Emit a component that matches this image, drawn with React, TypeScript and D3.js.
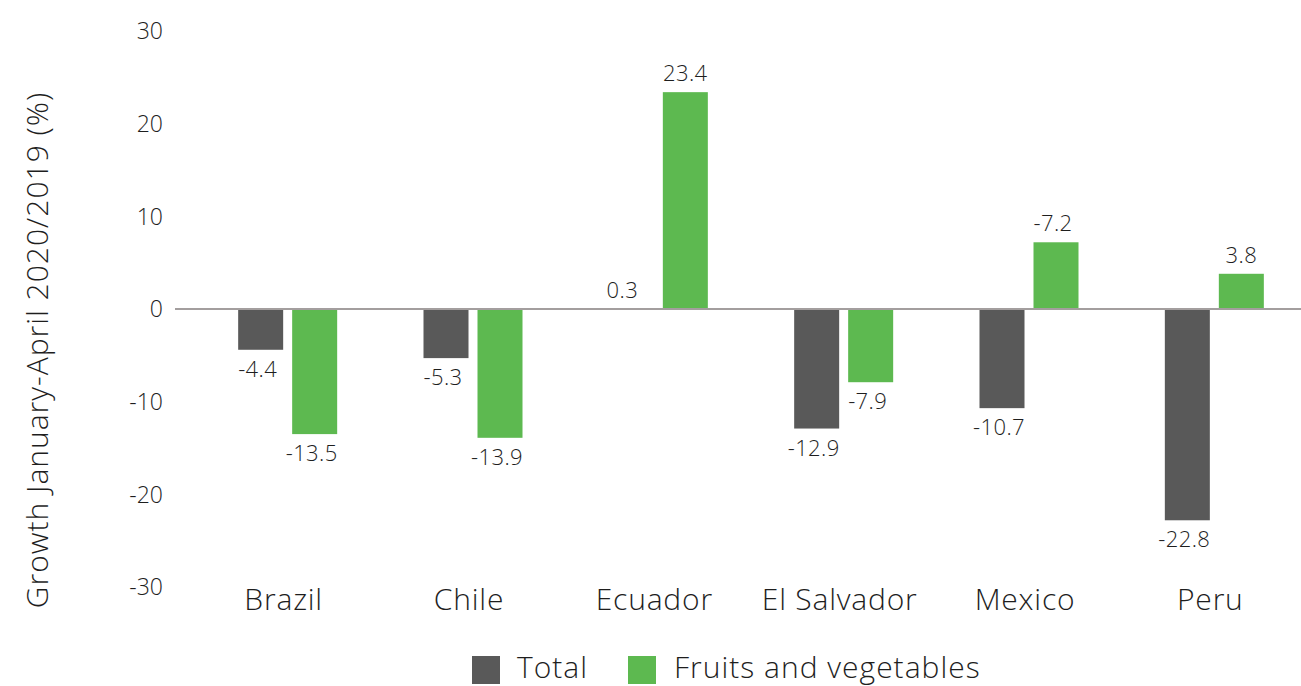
import React from "react";
import * as d3 from "d3";

const categories = ["Brazil", "Chile", "Ecuador", "El Salvador", "Mexico", "Peru"];
const totalValues = [-4.4, -5.3, 0, -12.9, -10.7, -22.8];
const totalLabels = ["-4.4", "-5.3", "0.3", "-12.9", "-10.7", "-22.8"];
const fruitValues = [-13.5, -13.9, 23.4, -7.9, 7.2, 3.8];
const fruitLabels = ["-13.5", "-13.9", "23.4", "-7.9", "-7.2", "3.8"];
const yTicks = [30, 20, 10, 0, -10, -20, -30];

const W = 1301;
const H = 686;
const font = "'Open Sans', Lato, sans-serif";
const grey = "#595959";
const green = "#5DB950";
const ink = "#1e1e1e";

const y = d3.scaleLinear().domain([-30, 30]).range([587, 31]);
const x = d3.scaleBand<string>().domain(categories).range([195, 1307]);
const barW = 45;
const gap = 9;

const App = () => {
  const zero = y(0);
  const series = [
    { values: totalValues, labels: totalLabels, color: grey, off: -gap / 2 - barW },
    { values: fruitValues, labels: fruitLabels, color: green, off: gap / 2 },
  ];
  return (
    <svg
      width={W}
      height={H}
      style={{ position: "absolute", left: 0, top: 0, fontFamily: font, fontWeight: 300 }}
    >
      {yTicks.map((t) => (
        <text key={t} x={163} y={y(t)} dy="0.36em" textAnchor="end" fontSize={23} fill={ink}>
          {t}
        </text>
      ))}
      <text
        transform={`translate(48,350) rotate(-90)`}
        textAnchor="middle"
        fontSize={30}
        letterSpacing={1}
        fill={ink}
      >
        Growth January-April 2020/2019 (%)
      </text>
      {series.map((s, si) =>
        categories.map((c, i) => {
          const v = s.values[i];
          const bx = (x(c) as number) + x.bandwidth() / 2 + s.off;
          const top = Math.min(y(v), zero);
          const h = Math.abs(y(v) - zero);
          const labelY = v > 0 ? y(v) - 11 : v < 0 ? y(v) + 27 : zero - 11;
          const lab = s.labels[i];
          return (
            <g key={`${si}-${c}`}>
              {h > 0 && <rect x={bx} y={top} width={barW} height={h} fill={s.color} />}
              <text
                x={bx + barW / 2 - (lab.startsWith("-") ? 3 : v === 0 ? 9 : 0)}
                y={labelY}
                textAnchor="middle"
                fontSize={22}
                letterSpacing={0.4}
                fill={ink}
              >
                {lab}
              </text>
            </g>
          );
        })
      )}
      <line x1={175} x2={W} y1={zero} y2={zero} stroke="#A39E9E" strokeWidth={2} />
      {categories.map((c) => (
        <text
          key={c}
          x={(x(c) as number) + x.bandwidth() / 2 - 4}
          y={610}
          textAnchor="middle"
          fontSize={30}
          letterSpacing={0.8}
          fill={ink}
        >
          {c}
        </text>
      ))}
      <g>
        <rect x={472} y={656} width={28} height={28} fill={grey} />
        <text x={517} y={678} fontSize={30} letterSpacing={1} fill={ink}>
          Total
        </text>
        <rect x={628} y={656} width={28} height={28} fill={green} />
        <text x={674} y={678} fontSize={30} letterSpacing={1} fill={ink}>
          Fruits and vegetables
        </text>
      </g>
    </svg>
  );
};

export default App;
